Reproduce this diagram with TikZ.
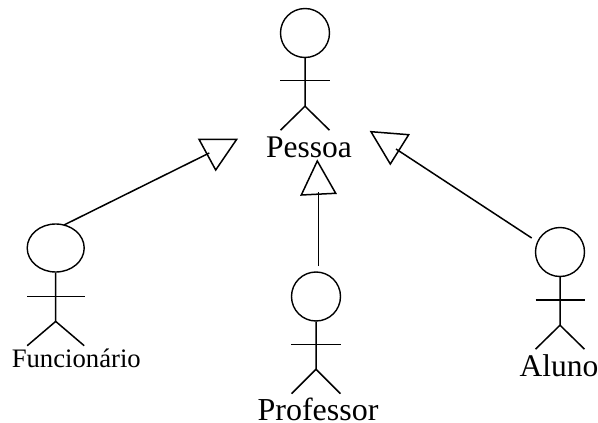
\documentclass[tikz,border=0pt]{standalone}
\usepackage{fontspec}
\setmainfont{Liberation Serif}
\usetikzlibrary{shapes.geometric}
\tikzset{
  x=1pt,y=-1pt,
  ln/.style={draw=black,line width=1.5pt,line cap=butt},
  arm/.style={draw=black,line width=1.2pt},
  headc/.style={circle,draw=black,line width=1.4pt,minimum size=49pt,inner sep=0pt},
  heade/.style={ellipse,draw=black,line width=1.4pt,minimum width=57pt,minimum height=48pt,inner sep=0pt},
  lbl/.style={inner sep=0pt,anchor=base,text=black},
}
\begin{document}
\begin{tikzpicture}
\useasboundingbox (0,0) rectangle (598,423);
% Pessoa
\node[headc] (pessoa) at (305,33) {};
\draw[ln] (pessoa.south) -- ++(0,48) coordinate (pw) -- ++(-24.5,24);
\draw[ln] (pw) -- ++(24.5,24);
\draw[arm] (280,80.5) -- (329.5,80.5);
\node[lbl,font=\fontsize{31.5}{34}\selectfont] (lp) at (309,157) {Pessoa};
% Funcionario
\node[heade] (func) at (55.7,248) {};
\draw[ln] (func.south) -- ++(0,48.7) coordinate (fw) -- ++(-28.5,24.3);
\draw[ln] (fw) -- ++(28.5,24.3);
\draw[arm] (27,296.7) -- (84.5,296.7);
\node[lbl,font=\fontsize{26.7}{28}\selectfont] (lf) at (76.3,367.7) {Funcionário};
% Professor
\node[headc] (prof) at (316,296.5) {};
\draw[ln] (prof.south) -- ++(0,47.5) coordinate (rw) -- ++(-24.5,24.5);
\draw[ln] (rw) -- ++(24.5,24.5);
\draw[arm] (291,344.7) -- (340.5,344.7);
\node[lbl,font=\fontsize{32}{34}\selectfont] (lr) at (318,420.5) {Professor};
% Aluno
\node[headc] (aluno) at (560,252) {};
\draw[ln] (aluno.south) -- ++(0,48) coordinate (aw) -- ++(-24.5,24);
\draw[ln] (aw) -- ++(24.5,24);
\draw[arm] (535.5,300) -- (584.5,300);
\node[lbl,font=\fontsize{31.5}{34}\selectfont] (la) at (559,376.7) {Aluno};
% triangles
\draw[ln,line join=miter] (199,139.3) -- (236.7,139.3) -- (215.7,170) -- cycle;
\draw[ln,line join=miter] (317.3,161) -- (301.3,195) -- (335.7,193.3) -- cycle;
\draw[ln,line join=miter] (371,131.7) -- (408.7,134.7) -- (390.3,164) -- cycle;
% connectors
\coordinate (t1) at (209.3,153);
\coordinate (s1) at (64,225);
\coordinate (t2) at (318.5,192);
\coordinate (s2) at (318.5,266);
\coordinate (t3) at (396,149);
\coordinate (s3) at (531.7,238);
\draw[ln] (s1) -- (t1);
\draw[ln] (s2) -- (t2);
\draw[ln] (s3) -- (t3);
\end{tikzpicture}
\end{document}
